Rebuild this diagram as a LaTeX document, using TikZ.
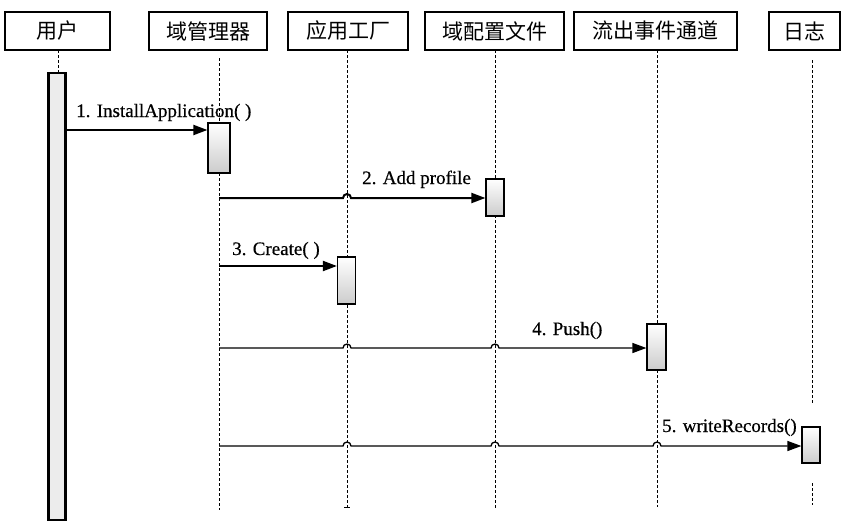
\documentclass[tikz,border=0pt]{standalone}
\usepackage{fontspec}
\setmainfont{Liberation Serif}
\newfontfamily\lblfont[FakeBold=0.5]{Liberation Serif}
\newfontfamily\cjk{Noto Sans CJK SC}
\usetikzlibrary{arrows.meta,calc}
\begin{document}
\begin{tikzpicture}[x=1pt,y=-1pt,
  hdr/.style={draw,line width=1.2pt,minimum height=38pt,inner sep=0pt,font=\cjk\fontsize{21}{23}\selectfont},
  life/.style={line width=0.9pt,dash pattern=on 3pt off 2pt},
  actbar/.style={draw,line width=1.2pt,inner sep=0pt,minimum width=18pt,top color=white,middle color=white,bottom color=gray!40},
  msgthick/.style={line width=2pt,-{Triangle[length=14pt,width=10pt]}},
  msgthin/.style={line width=1.3pt,-{Triangle[length=14pt,width=10pt]}},
  lbl/.style={anchor=base west,inner sep=0pt,font=\lblfont\fontsize{19}{21}\selectfont}]
\useasboundingbox (0,0) rectangle (845,522);
% headers
\node[hdr,minimum width=105pt] (h1) at (57.5,31) {用户};
\node[hdr,minimum width=118pt] (h2) at (208,31) {域管理器};
\node[hdr,minimum width=120pt] (h3) at (348,31) {应用工厂};
\node[hdr,minimum width=139pt] (h4) at (494.5,31) {域配置文件};
\node[hdr,minimum width=163pt] (h5) at (655.5,31) {流出事件通道};
\node[hdr,minimum width=71pt] (h6) at (804.5,31) {日志};
% lifeline coordinates
\coordinate (l1) at (58,50);   \coordinate (e1) at (58,73);
\coordinate (l2) at (219,58);  \coordinate (e2) at (219,510);
\coordinate (l3) at (347,50);  \coordinate (e3) at (347,507);
\coordinate (l4) at (495,50);  \coordinate (e4) at (495,508);
\coordinate (l5) at (657,50);  \coordinate (e5) at (657,507);
\coordinate (l6) at (812,60);  \coordinate (g6a) at (812,403);
\coordinate (g6b) at (812,483); \coordinate (e6) at (812,505);
\draw[life] (l1) -- (e1);
\draw[life] (l2) -- (e2);
\draw[life] (l3) -- (e3);
\draw[line width=1pt] ($(e3)+(-3,0)$) coordinate (t3a) -- ($(e3)+(3,0)$) coordinate (t3b);
\draw[life] (l4) -- (e4);
\draw[life] (l5) -- (e5);
\draw[life] (l6) -- (g6a);
\draw[life] (g6b) -- (e6);
% activation bars
\node[draw,line width=2.4pt,fill=gray!15,inner sep=0pt,minimum width=17pt,minimum height=447pt] (b1) at (57,296.5) {};
\node[actbar,minimum width=22pt,minimum height=50pt] (b2) at (219,148) {};
\node[actbar,minimum height=37pt] (b4) at (495,197.5) {};
\node[actbar,minimum height=47pt] (b3) at (346.5,280.5) {};
\node[actbar,minimum width=19pt,minimum height=46pt] (b5) at (656.5,347) {};
\node[actbar,minimum height=36pt] (b6) at (811,445) {};
% messages
\coordinate (s1) at (65.5,130);
\draw[msgthick] (s1) -- (b2.west|-s1);
\node[lbl] (t1) at (76,117) {1. InstallApplication( )};
\coordinate (s2) at (219,198);
\draw[msgthick] (s2) -- ($(l3|-s2)+(-4,0)$) arc[start angle=180,end angle=0,radius=4pt] -- (b4.west|-s2);
\node[lbl] (t2) at (362,184) {2. Add profile};
\coordinate (s3) at (219,266);
\draw[msgthick] (s3) -- (b3.west|-s3);
\node[lbl] (t3) at (232,255) {3. Create( )};
\coordinate (s4) at (219,348);
\draw[msgthin] (s4) -- ($(l3|-s4)+(-4,0)$) arc[start angle=180,end angle=0,radius=4pt]
  -- ($(l4|-s4)+(-4,0)$) arc[start angle=180,end angle=0,radius=4pt] -- (b5.west|-s4);
\node[lbl] (t4) at (532,335) {4. Push()};
\coordinate (s5) at (219,446);
\draw[msgthin] (s5) -- ($(l3|-s5)+(-4,0)$) arc[start angle=180,end angle=0,radius=4pt]
  -- ($(l4|-s5)+(-4,0)$) arc[start angle=180,end angle=0,radius=4pt]
  -- ($(l5|-s5)+(-4,0)$) arc[start angle=180,end angle=0,radius=4pt] -- (b6.west|-s5);
\node[lbl] (t5) at (662,432) {5. writeRecords()};
\end{tikzpicture}
\end{document}
